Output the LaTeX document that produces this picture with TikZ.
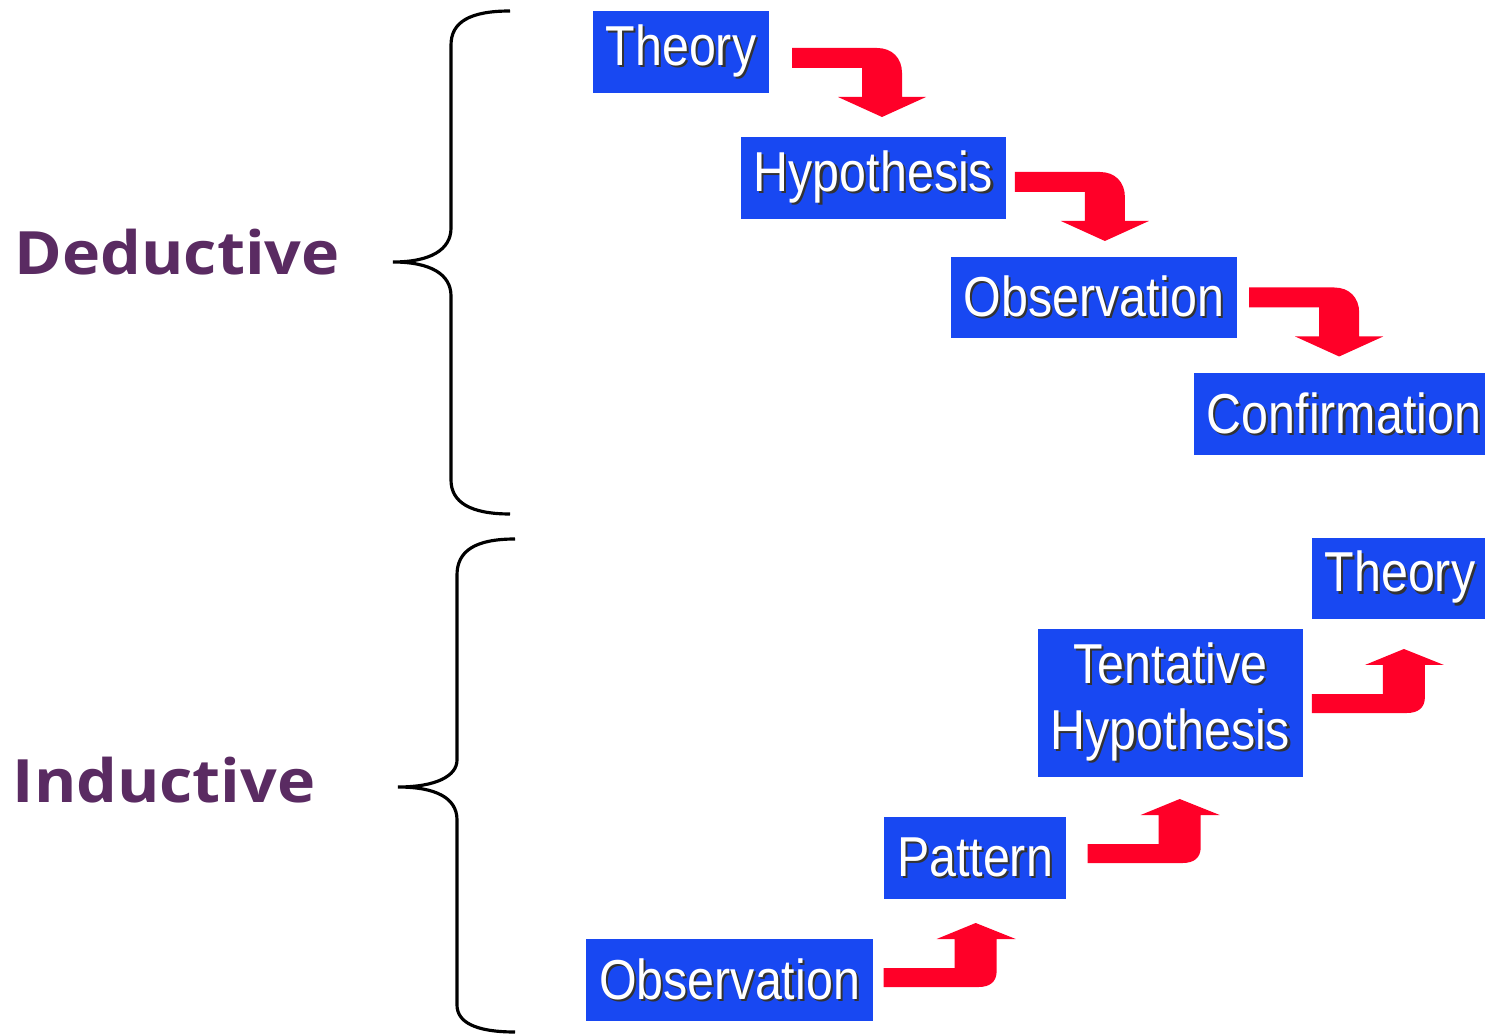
\documentclass[tikz,border=0pt]{standalone}
\usepackage{fontspec}
\newfontfamily\boxfont[FakeStretch=0.86]{Liberation Sans}
\newfontfamily\labelfont[FakeStretch=1.08]{Open Sans}
\definecolor{boxblue}{RGB}{24,72,242}
\definecolor{arrowred}{RGB}{255,0,40}
\definecolor{labelpurple}{RGB}{90,43,98}
\newcommand{\shadowed}[1]{\makebox[0pt][l]{\kern0.6pt\raisebox{-0.6pt}{\color{black!80}#1}}#1}
\begin{document}
\begin{tikzpicture}
[x=0.01cm,y=-0.01cm,%
  stepBox/.style={fill=boxblue,text=white,font=\boxfont\fontsize{16}{18.8}\selectfont,
    inner xsep=0.13cm,inner ysep=0pt,minimum height=0.81cm,align=center},%
  sideLabel/.style={text=labelpurple,font=\labelfont\bfseries\fontsize{17}{20}\selectfont,anchor=base west,inner sep=0pt},%
  braceLine/.style={line width=0.9pt},%
  downArrow/.pic={\fill[arrowred] (0,0) -- (85,0) .. controls (100,0) and (110,10) .. (110,25)
    -- (110,49) -- (134,49) -- (90,69) -- (46,49) -- (70,49) -- (70,20) -- (0,20) -- cycle;},%
  upArrow/.pic={\fill[arrowred] (0,0) -- (0,-19) -- (71,-19) -- (71,-48) -- (53,-48) -- (92,-64)
    -- (132,-48) -- (113,-48) -- (113,-16) .. controls (113,-5) and (106,0) .. (95,0) -- cycle;}]
\useasboundingbox (0,0) rectangle (1485,1034);
\clip (0,0) rectangle (1485,1034);
%% side labels
\node (ded) at (14,275) [sideLabel] {Deductive};
\node (ind) at (12,802) [sideLabel] {Inductive};
%% braces
\draw[braceLine] (510,11) .. controls (470,11) and (451,22) .. (451,45) -- (451,228)
  .. controls (451,250) and (430,262) .. (393,262) .. controls (430,262) and (451,274) .. (451,296)
  -- (451,480) .. controls (451,502) and (470,514) .. (510,514);
\draw[braceLine] (515,539) .. controls (475,539) and (457,551) .. (457,575) -- (457,760)
  .. controls (457,776) and (436,787) .. (398,787) .. controls (436,787) and (457,798) .. (457,820)
  -- (457,1005) .. controls (457,1022) and (475,1032) .. (515,1032);
%% boxes
\foreach \nodename/\x/\y/\word in {t1/681/52/Theory, h1/873.5/178/Hypothesis, o1/1094/297.5/Observation,
  c1/1344/414/Confirmation, t2/1400/578.5/Theory, p2/975/858/Pattern, o2/729.5/980/Observation}
{
  \node (\nodename) at (\x,\y) [stepBox] {\shadowed{\word}};
}
\node (h2) at (1170.5,703) [stepBox,minimum height=1.48cm] {\shadowed{Tentative}\\\shadowed{Hypothesis}};
%% red arrows down
\foreach \src/\dx/\dy in {t1/22/-4, h1/8/-6, o1/11/-10}
{
  \pic at ([shift={(\dx,\dy)}]\src.east) {downArrow};
}
%% red arrows up
\foreach \src/\dx/\dy in {o2/10/7, p2/21/5, h2/8/10}
{
  \pic at ([shift={(\dx,\dy)}]\src.east) {upArrow};
}
\end{tikzpicture}
\end{document}
